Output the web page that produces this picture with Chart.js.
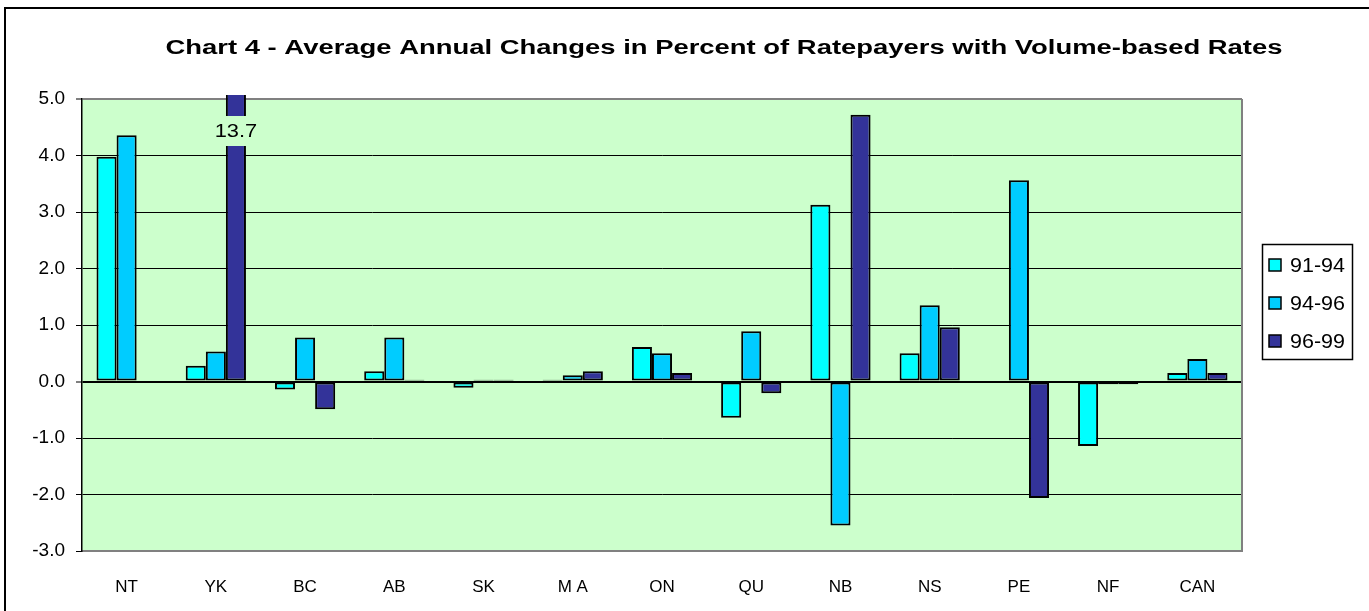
<!DOCTYPE html>
<html>
<head>
<meta charset="utf-8">
<script src="https://cdn.jsdelivr.net/npm/chart.js@4.4.1/dist/chart.umd.min.js"></script>
<style>
  html, body { margin: 0; padding: 0; background: #fff; }
  #wrap { width: 1369px; height: 611px; position: relative; }
</style>
</head>
<body>
<div id="wrap"><canvas id="myChart" width="1369" height="611"></canvas></div>
<script>
// chart data
const title = 'Chart 4 - Average Annual Changes in Percent of Ratepayers with Volume-based Rates';
const categories = ['NT', 'YK', 'BC', 'AB', 'SK', 'M A', 'ON', 'QU', 'NB', 'NS', 'PE', 'NF', 'CAN'];
const seriesNames = ['91-94', '94-96', '96-99'];
const s9194 = [3.98, 0.28, -0.14, 0.18, -0.11, 0.03, 0.61, -0.64, 3.13, 0.50, 0.0, -1.14, 0.15];
const s9496 = [4.36, 0.53, 0.78, 0.78, 0.03, 0.11, 0.50, 0.89, -2.55, 1.35, 3.56, -0.05, 0.40];
const s9699 = [0.0, 13.7, -0.49, 0.03, 0.03, 0.18, 0.15, -0.21, 4.72, 0.96, -2.06, -0.05, 0.15];
const yMin = -3, yMax = 5;

const FONT = '"Liberation Sans", Arial, sans-serif';
const colors = ['#00FFFF', '#00CCFF', '#333399'];

const ctx = document.getElementById('myChart');

// the original text is drawn wider than a plain Arial run, so stretch it to the width seen
function wideText(c, txt, x, y, targetW) {
    const w = c.measureText(txt).width;
    const sx = targetW / w;
    c.save();
    c.translate(x, y);
    c.scale(sx, 1);
    c.fillText(txt, 0, 0);
    c.restore();
}

const plotDecor = {
    id: 'plotDecor',
    beforeDraw(chart) {
        const c = chart.ctx, a = chart.chartArea;
        c.save();
        c.fillStyle = '#fff';
        c.fillRect(0, 0, chart.width, chart.height);
        c.fillStyle = '#CCFFCC';
        c.fillRect(a.left, a.top, a.right - a.left, a.bottom - a.top);
        // outer frame (left and top only are visible)
        c.fillStyle = '#000';
        c.fillRect(4, 7, 2, chart.height - 7);
        c.fillRect(4, 7, chart.width - 4, 2);
        c.restore();
    },
    beforeDatasetsDraw(chart) {
        const c = chart.ctx, a = chart.chartArea;
        c.save();
        c.strokeStyle = '#808080';
        c.lineWidth = 2;
        c.beginPath();
        c.moveTo(a.right, a.top);
        c.lineTo(a.right, a.bottom);
        c.stroke();
        c.restore();
    },
    afterDraw(chart) {
        const c = chart.ctx, a = chart.chartArea;
        c.save();
        // title
        c.fillStyle = '#000';
        c.font = 'bold 20px ' + FONT;
        c.textAlign = 'center';
        c.textBaseline = 'middle';
        wideText(c, title, 724, 48, 1117);

        // label for the clipped YK bar
        const meta = chart.getDatasetMeta(2);
        const bar = meta.data[1];
        const lbl = chart.data.datasets[2].data[1].toFixed(1);
        c.font = '19px ' + FONT;
        const w = c.measureText(lbl).width * 1.15;
        c.fillStyle = '#CCFFCC';
        c.fillRect(bar.x - w / 2 - 3, a.top + 17, w + 6, 30);
        c.fillStyle = '#000';
        wideText(c, lbl, bar.x, a.top + 33, w);

        // legend
        const lx = 1262, ly = 244, lw = 90, lh = 115;
        c.fillStyle = '#fff';
        c.fillRect(lx, ly, lw, lh);
        c.strokeStyle = '#000';
        c.lineWidth = 1.5;
        c.strokeRect(lx + 0.5, ly + 0.5, lw, lh);
        c.textAlign = 'left';
        c.font = '20px ' + FONT;
        chart.data.datasets.forEach((ds, i) => {
            const yy = ly + 21 + i * 38;
            c.fillStyle = ds.backgroundColor;
            c.fillRect(lx + 7, yy - 6, 12, 12);
            c.lineWidth = 1.5;
            c.strokeRect(lx + 7, yy - 6, 12, 12);
            c.fillStyle = '#000';
            wideText(c, ds.label, lx + 28, yy + 1, 55);
        });
        c.restore();
    }
};

const datasets = [s9194, s9496, s9699].map((d, i) => ({
    label: seriesNames[i],
    data: d,
    backgroundColor: colors[i],
    borderColor: '#000',
    borderWidth: 2,
    borderSkipped: false,
    clip: { left: 0, top: 4, right: 0, bottom: 0 }
}));

new Chart(ctx, {
    type: 'bar',
    data: { labels: categories, datasets },
    options: {
        responsive: false,
        animation: false,
        events: [],
        barPercentage: 1,
        categoryPercentage: 0.675,
        layout: { padding: { left: 0, top: 99, right: 127, bottom: 0 } },
        scales: {
            x: {
                grid: { display: false },
                border: { display: true, color: '#808080', width: 2 },
                ticks: { color: '#000', font: { family: FONT, size: 17 }, padding: 18, maxRotation: 0 },
                afterFit(scale) { scale.height = 60; }
            },
            y: {
                min: yMin,
                max: yMax,
                grid: {
                    color: (c) => (c.tick && (c.tick.value === yMax || c.tick.value === yMin)) ? '#808080' : '#000',
                    lineWidth: (c) => (c.tick && c.tick.value === 0) ? 2 : (c.tick && c.tick.value === yMax ? 2 : 1),
                    tickColor: '#000',
                    tickLength: 6,
                    tickWidth: 1
                },
                border: { display: true, color: '#000', width: 1.5 },
                ticks: {
                    stepSize: 1,
                    color: '#000',
                    padding: 11,
                    font: { family: FONT, size: 19 },
                    callback: (v) => Number(v).toFixed(1)
                },
                afterFit(scale) { scale.width = 82; }
            }
        },
        plugins: {
            legend: { display: false },
            tooltip: { enabled: false }
        }
    },
    plugins: [plotDecor]
});
</script>
</body>
</html>
